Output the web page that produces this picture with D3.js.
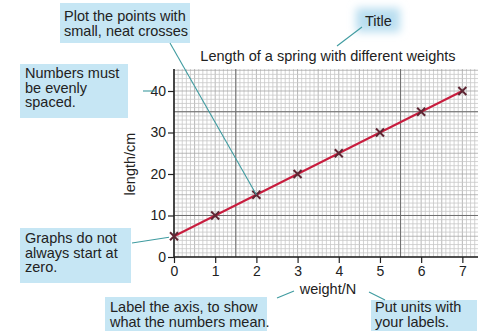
<!DOCTYPE html>
<html>
<head>
<meta charset="utf-8">
<script src="https://cdn.jsdelivr.net/npm/d3@7"></script>
<style>
  html, body { margin: 0; padding: 0; background: #fff; }
  svg { display: block; font-family: "Liberation Sans", Arial, Helvetica, sans-serif; }
</style>
</head>
<body>
<svg id="chart" width="479" height="331"></svg>
<script>
// Spring length measured for each hanging weight
const weights = [0, 1, 2, 3, 4, 5, 6, 7];
const lengths = [5, 10, 15, 20, 25, 30, 35, 40];
const xTickValues = [0, 1, 2, 3, 4, 5, 6, 7];
const yTickValues = [0, 10, 20, 30, 40];

const titleText = "Length of a spring with different weights";
const xLabel = "weight/N";
const yLabel = "length/cm";

const svg = d3.select("#chart");

const x = d3.scaleLinear().domain([0, 7.38]).range([174, 478]);
const y = d3.scaleLinear().domain([0, 45.3]).range([257, 69]);

// ---- graph paper ----
const paper = svg.append("g");
const fineX = d3.range(0, 7.38, 0.1).map(v => +v.toFixed(2));
const fineY = d3.range(0, 45.3, 1);
paper.selectAll("line.vx").data(fineX).join("line")
  .attr("x1", d => x(d)).attr("x2", d => x(d))
  .attr("y1", y(45.3)).attr("y2", y(0))
  .attr("stroke", (d, i) => i % 5 === 0 ? "#a6a6a6" : "#c8c8c8")
  .attr("stroke-width", 0.8);
paper.selectAll("line.hy").data(fineY).join("line")
  .attr("y1", d => y(d)).attr("y2", d => y(d))
  .attr("x1", x(0)).attr("x2", x(7.38))
  .attr("stroke", (d, i) => i % 5 === 0 ? "#a6a6a6" : "#c8c8c8")
  .attr("stroke-width", 0.8);
// heavier sheet lines
paper.selectAll("line.mx").data([1.5, 5.5]).join("line")
  .attr("x1", d => x(d)).attr("x2", d => x(d))
  .attr("y1", y(45.3)).attr("y2", y(0))
  .attr("stroke", "#707070").attr("stroke-width", 1);
paper.selectAll("line.my").data([10, 35]).join("line")
  .attr("y1", d => y(d)).attr("y2", d => y(d))
  .attr("x1", x(0)).attr("x2", x(7.38))
  .attr("stroke", "#707070").attr("stroke-width", 1);

// ---- axes ----
const fontSize = "14px";
const xAxis = svg.append("g").attr("transform", `translate(0,${y(0)})`)
  .call(d3.axisBottom(x).tickValues(xTickValues).tickSize(6).tickPadding(3).tickFormat(d3.format("d")));
const yAxis = svg.append("g").attr("transform", `translate(${x(0)},0)`)
  .call(d3.axisLeft(y).tickValues(yTickValues).tickSize(6).tickPadding(2).tickFormat(d3.format("d")));
[xAxis, yAxis].forEach(a => {
  a.select(".domain").attr("stroke", "#222").attr("stroke-width", 1.6);
  a.selectAll(".tick line").attr("stroke", "#222").attr("stroke-width", 1.2);
  a.selectAll(".tick text").attr("fill", "#222")
    .style("font-size", fontSize).style("font-family", "Liberation Sans, Arial, sans-serif");
});
yAxis.select(".domain").attr("d", `M0,${y(45.3)}V${y(0)}`);
xAxis.select(".domain").attr("d", `M${x(0)},0H${x(7.38)}`);

// ---- best-fit line and crosses ----
const pts = weights.map((w, i) => [w, lengths[i]]);
svg.append("path")
  .attr("d", d3.line().x(d => x(d[0])).y(d => y(d[1]))(pts))
  .attr("fill", "none").attr("stroke", "#c81d3e").attr("stroke-width", 2);
const c = 4;
svg.append("g").selectAll("path").data(pts).join("path")
  .attr("d", d => {
    const px = x(d[0]), py = y(d[1]);
    return `M${px - c},${py - c}L${px + c},${py + c}M${px - c},${py + c}L${px + c},${py - c}`;
  })
  .attr("stroke", "#5e2633").attr("stroke-width", 2).attr("fill", "none");

// ---- titles ----
svg.append("text").attr("x", 328).attr("y", 61).attr("text-anchor", "middle")
  .style("font-size", "14.5px").attr("fill", "#222").text(titleText);
svg.append("text").attr("x", 328).attr("y", 294).attr("text-anchor", "middle")
  .style("font-size", "14.5px").attr("fill", "#222").text(xLabel);
svg.append("text").attr("transform", `translate(135,164) rotate(-90)`).attr("text-anchor", "middle")
  .style("font-size", "14.5px").attr("fill", "#222").text(yLabel);

// ---- teaching notes ----
const defs = svg.append("defs");
defs.append("filter").attr("id", "soft").attr("x", "-50%").attr("y", "-50%").attr("width", "200%").attr("height", "200%")
  .append("feGaussianBlur").attr("stdDeviation", 4);

const noteFill = "#c6e6f4";
const leader = "#3f9ba0";

const notes = [
  { x: 60, y: 3, w: 130, h: 40, tx: 64, lines: ["Plot the points with", "small, neat crosses"], base: 21 },
  { x: 20, y: 64, w: 108, h: 54, tx: 25, lines: ["Numbers must", "be evenly", "spaced."], base: 78 },
  { x: 20, y: 228, w: 111, h: 55, tx: 25, lines: ["Graphs do not", "always start at", "zero."], base: 243 },
  { x: 105, y: 297, w: 162, h: 34, tx: 110, lines: ["Label the axis, to show", "what the numbers mean."], base: 312 },
  { x: 371, y: 300, w: 106, h: 31, tx: 375, lines: ["Put units with", "your labels."], base: 312 }
];

svg.append("rect").attr("x", 356).attr("y", 8).attr("width", 44).attr("height", 24)
  .attr("fill", "#b9def0").attr("filter", "url(#soft)");
svg.append("text").attr("x", 365).attr("y", 26).style("font-size", "14.5px").attr("fill", "#222").text("Title");

const ng = svg.append("g");
notes.forEach(n => {
  ng.append("rect").attr("x", n.x).attr("y", n.y).attr("width", n.w).attr("height", n.h).attr("fill", noteFill);
  const t = ng.append("text").attr("x", n.tx).attr("y", n.base).style("font-size", "14.5px").attr("fill", "#222");
  n.lines.forEach((s, i) => t.append("tspan").attr("x", n.tx).attr("dy", i === 0 ? 0 : 14.5).text(s));
});

// leader lines from notes to what they describe
const leaders = [
  [[170, 43], [x(2), y(15)]],
  [[143, y(40)], [156, y(40)]],
  [[132, 243], [x(0) - 5, y(5) + 1]],
  [[277, 298], [294, 291]],
  [[369, 292], [385, 300]],
  [[337, 46], [362, 27]]
];
svg.append("g").selectAll("line").data(leaders).join("line")
  .attr("x1", d => d[0][0]).attr("y1", d => d[0][1])
  .attr("x2", d => d[1][0]).attr("y2", d => d[1][1])
  .attr("stroke", leader).attr("stroke-width", 1.1);
</script>
</body>
</html>
